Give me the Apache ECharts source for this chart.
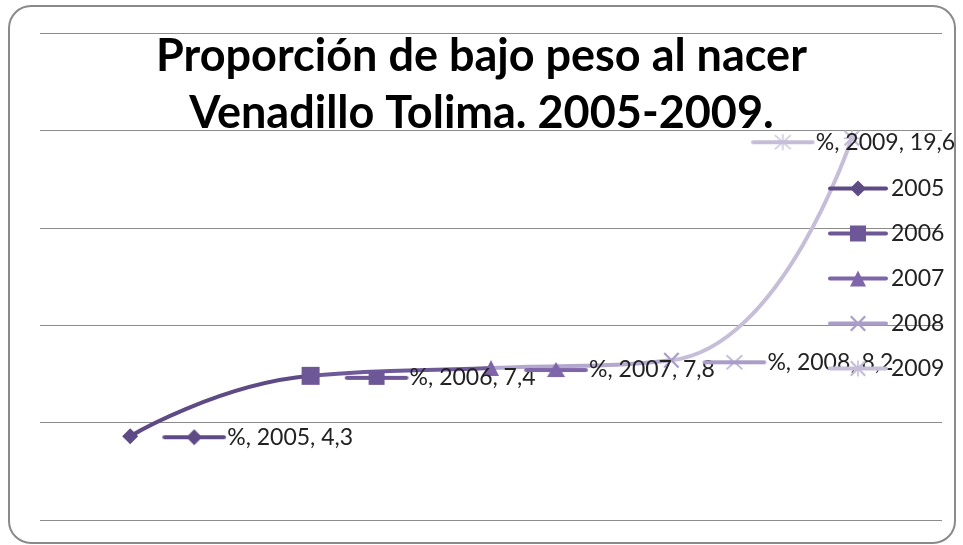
<!DOCTYPE html>
<html>
<head>
<meta charset="utf-8">
<script src="https://cdn.jsdelivr.net/npm/echarts@6/dist/echarts.min.js"></script>
<style>
  html, body { margin: 0; padding: 0; background: #fff; }
  #chart { width: 963px; height: 545px; }
</style>
</head>
<body>
<div id="chart"></div>
<script>
// datos
var years = ['2005', '2006', '2007', '2008', '2009']
var values = [4.3, 7.4, 7.8, 8.2, 19.6]
var seriesName = '%'

// estilo
var colors = ['#5e4a85', '#6d5796', '#7f65a9', '#aa9dc8', '#c6bed9']
var segColors = ['#5e4a85', '#6f5a99', '#b3a8cd', '#c6bed9']
var X_PATH = 'path://M0,1L1,0L5,4L9,0L10,1L6,5L10,9L9,10L5,6L1,10L0,9L4,5Z'
var STAR_PATH = 'path://M0,1L1,0L5,4L9,0L10,1L6,5L10,9L9,10L5,6L1,10L0,9L4,5Z M4.5,0L5.5,0L5.5,10L4.5,10Z M0,4.5L10,4.5L10,5.5L0,5.5Z'
var symbols = ['diamond', 'rect', 'triangle', X_PATH, STAR_PATH]
var symbolSizes = [16, 18, 16, 16, 16]
var font = 'Lato, "Open Sans", sans-serif'

// clave pequeña (linea + marcador) para las etiquetas
function keyImage (i) {
  var c = document.createElement('canvas')
  c.width = 58
  c.height = 18
  var g = c.getContext('2d')
  g.strokeStyle = colors[i]
  g.fillStyle = colors[i]
  g.lineWidth = 4
  g.lineCap = 'round'
  g.beginPath()
  g.moveTo(3, 9)
  g.lineTo(55, 9)
  g.stroke()
  var cx = 29
  var cy = 9
  g.beginPath()
  if (i === 0) {
    g.moveTo(cx, cy - 8); g.lineTo(cx + 7, cy); g.lineTo(cx, cy + 8); g.lineTo(cx - 7, cy); g.closePath(); g.fill()
  } else if (i === 1) {
    g.fillRect(cx - 7, cy - 7, 14, 14)
  } else if (i === 2) {
    g.moveTo(cx, cy - 8); g.lineTo(cx + 8, cy + 7); g.lineTo(cx - 8, cy + 7); g.closePath(); g.fill()
  } else {
    g.lineWidth = 1.2
    g.lineCap = 'butt'
    g.moveTo(cx - 7, cy - 7); g.lineTo(cx + 7, cy + 7)
    g.moveTo(cx + 7, cy - 7); g.lineTo(cx - 7, cy + 7)
    if (i === 4) {
      g.moveTo(cx, cy - 8); g.lineTo(cx, cy + 8)
    }
    g.stroke()
  }
  return c
}

var rich = {
  t: { fontFamily: font, fontSize: 23, color: '#222' }
}
years.forEach(function (y, i) {
  rich['k' + i] = { width: 58, height: 18, backgroundColor: { image: keyImage(i) }, padding: [0, 8, 0, 0] }
})

var labelOffsets = [[-7, 1], [-6, 2], [-6, 2], [-8, 2], [-140, 4]]

var series = [{
  name: 'trend',
  type: 'line',
  data: values,
  smooth: 0.5,
  symbol: 'none',
  lineStyle: { width: 4 },
  z: 1,
  silent: true
}]

years.forEach(function (y, i) {
  var d = years.map(function (yy, j) { return j === i ? values[j] : '-' })
  series.push({
    name: y,
    type: 'line',
    data: d,
    symbol: symbols[i],
    symbolSize: symbolSizes[i],
    showAllSymbol: true,
    color: colors[i],
    itemStyle: { color: colors[i] },
    lineStyle: { width: 4, color: colors[i] },
    z: 3,
    label: {
      show: true,
      position: 'right',
      distance: 30,
      offset: labelOffsets[i],
      formatter: function (p) {
        return '{k' + i + '|}{t|' + seriesName + ', ' + y + ', ' + String(p.value).replace('.', ',') + '}'
      },
      rich: rich
    }
  })
})

var chart = echarts.init(document.getElementById('chart'))
chart.setOption({
  animation: false,
  title: {
    text: 'Proporción de bajo peso al nacer\nVenadillo Tolima. 2005-2009.',
    left: 'center',
    top: 28,
    padding: [0, 0, 0, 20],
    textStyle: { fontFamily: font, fontSize: 45, fontWeight: 'bold', color: '#000', lineHeight: 57 }
  },
  graphic: [{
    type: 'rect',
    shape: { x: 9, y: 6, width: 946, height: 537, r: 22 },
    style: { fill: 'none', stroke: '#8a8a8a', lineWidth: 2 },
    silent: true,
    z: -1
  }],
  legend: {
    data: years,
    orient: 'vertical',
    left: 823,
    top: 172,
    itemWidth: 56,
    itemHeight: 20,
    itemGap: 22,
    lineStyle: { width: 4, cap: 'round' },
    textStyle: { fontFamily: font, fontSize: 23, color: '#222' }
  },
  visualMap: {
    show: false,
    type: 'piecewise',
    seriesIndex: 0,
    dimension: 0,
    pieces: [
      { gte: 0, lt: 1, color: segColors[0] },
      { gte: 1, lt: 2, color: segColors[1] },
      { gte: 2, lt: 3, color: segColors[2] },
      { gte: 3, lte: 4, color: segColors[3] }
    ]
  },
  grid: { left: 40, right: 21, top: 33, bottom: 25 },
  xAxis: {
    type: 'category',
    data: years,
    boundaryGap: true,
    axisLine: { show: false },
    axisTick: { show: false },
    axisLabel: { show: false }
  },
  yAxis: {
    type: 'value',
    min: 0,
    max: 25,
    interval: 5,
    axisLabel: { show: false },
    axisLine: { show: false },
    axisTick: { show: false },
    splitLine: { lineStyle: { color: '#8c8c8c', width: 1 } }
  },
  series: series
})
</script>
</body>
</html>
